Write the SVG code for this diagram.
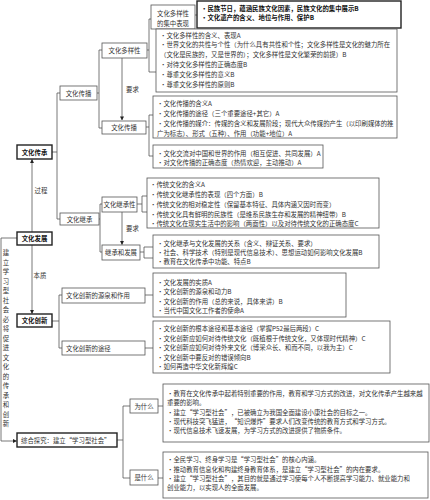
<svg xmlns="http://www.w3.org/2000/svg" width="430" height="500" viewBox="0 0 430 500">
<defs>
<style>
.n{fill:#fff;stroke:#555;stroke-width:0.8}
.bx{fill:#fff;stroke:#222;stroke-width:1.4}
.t{font-family:"Noto Sans CJK SC","Noto Sans",sans-serif;font-size:6.4px;fill:#333;dominant-baseline:central}
.c{text-anchor:middle}
.bt{font-weight:bold;fill:#111}
.l{fill:none;stroke:#555;stroke-width:0.8}
</style>
<marker id="ah" viewBox="0 0 10 10" refX="9" refY="5" markerWidth="5" markerHeight="5" orient="auto"><path d="M0,0 L10,5 L0,10 z" fill="#222"/></marker>
</defs>
<rect width="430" height="500" fill="#fff"/>

<g id="connectors">
<!-- 文化传承 bracket -->
<path class="l" d="M52,152 H57 M57,93 V219 M57,93 H60 M57,219 H60"/>
<!-- 文化传播 l2 bracket -->
<path class="l" d="M97,93 H99 M99,50 V128 M99,50 H102 M99,128 H102"/>
<!-- 文化多样性 bracket -->
<path class="l" d="M147,50 H149 M149,19 V72 M149,19 H151 M149,72 H156 M195,15 H197"/>
<!-- 要求 1 -->
<path class="l" d="M122,58 V120" marker-end="url(#ah)"/>
<!-- 文化传播 l3 bracket -->
<path class="l" d="M146,127 H149 M149,115 V156 M149,115 H153 M149,156 H153"/>
<!-- 文化继承 bracket -->
<path class="l" d="M99,219 H100 M100,204 V252 M100,204 H102 M100,252 H102"/>
<!-- 要求 2 -->
<path class="l" d="M122,212 V244.5" marker-end="url(#ah)"/>
<!-- 文化继承性 -> box -->
<path class="l" d="M137,204 H142 M142,196 V212 M142,196 H147 M142,212 H147"/>
<!-- 继承和发展 -> box -->
<path class="l" d="M140,252 H144 M144,247 V258 M144,247 H153 M144,258 H153"/>
<!-- 过程 -->
<path class="l" d="M32,232 V159.5" marker-end="url(#ah)"/>
<!-- 本质 -->
<path class="l" d="M32,245 V313.5" marker-end="url(#ah)"/>
<!-- 文化创新 bracket -->
<path class="l" d="M52,321 H59 M59,295 V348 M59,295 H62 M59,348 H62"/>
<path class="l" d="M145,295 H153 M145,348 H153"/>
<!-- left long connector -->
<path class="l" d="M17,238 H1 V441 H16.5" marker-end="url(#ah)"/>
<!-- 综合探究 bracket -->
<path class="l" d="M117,440 H123 M123,406 V478 M123,406 H130 M123,478 H130"/>
<path class="l" d="M158,406 H163 M158,478 H163"/>
</g>

<g id="vlabel">
<text class="t c" x="6" y="252">建<tspan x="6" dy="9.5">立</tspan><tspan x="6" dy="9.5">学</tspan><tspan x="6" dy="9.5">习</tspan><tspan x="6" dy="9.5">型</tspan><tspan x="6" dy="9.5">社</tspan><tspan x="6" dy="9.5">会</tspan><tspan x="6" dy="9.5">必</tspan><tspan x="6" dy="9.5">将</tspan><tspan x="6" dy="9.5">促</tspan><tspan x="6" dy="9.5">进</tspan><tspan x="6" dy="9.5">文</tspan><tspan x="6" dy="9.5">化</tspan><tspan x="6" dy="9.5">的</tspan><tspan x="6" dy="9.5">传</tspan><tspan x="6" dy="9.5">承</tspan><tspan x="6" dy="9.5">和</tspan><tspan x="6" dy="9.5">创</tspan><tspan x="6" dy="9.5">新</tspan></text>
<text class="t c" x="132.5" y="89">要求</text>
<text class="t c" x="132.5" y="228">要求</text>
<text class="t c" x="41" y="190">过程</text>
<text class="t c" x="40" y="275">本质</text>
</g>

<g id="n_jzbx"><rect class="n" x="151" y="5" width="44" height="24"/><text class="t c" x="173" y="13">文化多样性</text><text class="t c" x="173" y="23">的集中表现</text></g>
<g id="n_bold"><rect class="bx" x="197" y="1" width="204" height="27"/><text class="t bt" x="201" y="8">·民族节日，蕴涵民族文化因素，民族文化的集中展示B</text><text class="t bt" x="201" y="17">·文化遗产的含义、地位与作用、保护B</text></g>
<g id="n_dyx"><rect class="n" x="102" y="43" width="45" height="15"/><text class="t c" x="124.5" y="50.5">文化多样性</text></g>
<g id="box1"><rect class="n" x="156" y="29" width="241" height="63"/>
<text class="t" x="160" y="35">·文化多样性的含义、表现A</text>
<text class="t" x="160" y="44.8">·世界文化的共性与个性（为什么具有共性和个性；文化多样性是文化的魅力所在</text>
<text class="t" x="160" y="54.6">（文化是民族的，又是世界的）；文化多样性是文化繁荣的前提）B</text>
<text class="t" x="160" y="64.4">·对待文化多样性的正确态度B</text>
<text class="t" x="160" y="74.2">·尊重文化多样性的意义B</text>
<text class="t" x="160" y="84">·尊重文化多样性的原则B</text></g>
<g id="n_cb2"><rect class="n" x="60" y="86" width="37" height="14"/><text class="t c" x="78.5" y="93">文化传播</text></g>
<g id="n_cb3"><rect class="n" x="102" y="121" width="44" height="13"/><text class="t c" x="124" y="127.5">文化传播</text></g>
<g id="box2"><rect class="n" x="153" y="96" width="244" height="42"/>
<text class="t" x="157" y="103">·文化传播的含义A</text>
<text class="t" x="157" y="113">·文化传播的途径（三个重要途径+其它）A</text>
<text class="t" x="157" y="123">·文化传播的媒介：传媒的含义和发展阶段；现代大众传媒的产生（以印刷媒体的推</text>
<text class="t" x="157" y="133">广为标志）、形式（五种）、作用（功能+地位）A</text></g>
<g id="box3"><rect class="n" x="153" y="145" width="170" height="23"/>
<text class="t" x="157" y="153">·文化交流对中国和世界的作用（相互促进、共同发展）A</text>
<text class="t" x="157" y="162">·对文化传播的正确态度（热情欢迎，主动推动）A</text></g>
<g id="n_cc"><rect class="bx" x="17" y="145" width="35" height="14"/><text class="t c bt" x="34.5" y="152">文化传承</text></g>
<g id="n_fz"><rect class="bx" x="17" y="232" width="35" height="13"/><text class="t c bt" x="34.5" y="238.5">文化发展</text></g>
<g id="n_jc"><rect class="n" x="60" y="213" width="39" height="12"/><text class="t c" x="79.5" y="219">文化继承</text></g>
<g id="n_jcx"><rect class="n" x="102" y="197" width="35" height="15"/><text class="t c" x="119.5" y="204.5">文化继承性</text></g>
<g id="n_jcfz"><rect class="n" x="102" y="245" width="38" height="15"/><text class="t c" x="121" y="252.5">继承和发展</text></g>
<g id="box4"><rect class="n" x="147" y="178" width="232" height="50"/>
<text class="t" x="150" y="184">·传统文化的含义A</text>
<text class="t" x="150" y="194">·传统文化继承性的表现（四个方面）B</text>
<text class="t" x="150" y="204">·传统文化的相对稳定性（保留基本特征、具体内涵又因时而变）</text>
<text class="t" x="150" y="214">·传统文化具有鲜明的民族性（是维系民族生存和发展的精神纽带）B</text>
<text class="t" x="150" y="223">·传统文化在现实生活中的影响（两面性）以及对待传统文化的正确态度C</text></g>
<g id="box5"><rect class="n" x="153" y="235" width="226" height="33"/>
<text class="t" x="157" y="243">·文化继承与文化发展的关系（含义、辩证关系、要求）</text>
<text class="t" x="157" y="252">·社会、科学技术（特别是现代信息技术）、思想运动如何影响文化发展B</text>
<text class="t" x="157" y="261">·教育在文化传承中功能、特点B</text></g>
<g id="n_cx"><rect class="bx" x="17" y="314" width="35" height="13"/><text class="t c bt" x="34.5" y="320.5">文化创新</text></g>
<g id="n_yq"><rect class="n" x="62" y="288" width="83" height="15"/><text class="t" x="66" y="295.5">文化创新的源泉和作用</text></g>
<g id="n_tj"><rect class="n" x="62" y="341" width="83" height="14"/><text class="t" x="66" y="348">文化创新的途径</text></g>
<g id="box6"><rect class="n" x="153" y="273" width="193" height="44"/>
<text class="t" x="157" y="282">·文化发展的实质A</text>
<text class="t" x="157" y="291">·文化创新的源泉和动力B</text>
<text class="t" x="157" y="301">·文化创新的作用（总的来说，具体来讲）B</text>
<text class="t" x="157" y="310">·当代中国文化工作者的使命A</text></g>
<g id="box7"><rect class="n" x="153" y="321" width="237" height="52"/>
<text class="t" x="157" y="328">·文化创新的根本途径和基本途径（掌握P52最后两段）C</text>
<text class="t" x="157" y="338">·文化创新应如何对待传统文化（既植根于传统文化，又体现时代精神）C</text>
<text class="t" x="157" y="347">·文化创新应如何对待外来文化（博采众长、和而不同，以我为主）C</text>
<text class="t" x="157" y="357">·文化创新中要反对的错误倾向B</text>
<text class="t" x="157" y="366">·如何再造中华文化新辉煌C</text></g>
<g id="n_zh"><rect class="bx" x="17" y="433" width="100" height="14"/><text class="t" x="21" y="440">综合探究：建立“学习型社会”</text></g>
<g id="n_wsm"><rect class="n" x="130" y="399" width="28" height="14"/><text class="t c" x="144" y="406">为什么</text></g>
<g id="n_ssm"><rect class="n" x="130" y="470" width="28" height="15"/><text class="t c" x="144" y="477.5">是什么</text></g>
<g id="box8"><rect class="n" x="163" y="384" width="266" height="58"/>
<text class="t" x="167" y="393">·教育在文化传承中起着特别重要的作用，教育和学习方式的改进，对文化传承产生越来越</text>
<text class="t" x="167" y="402">重要的影响。</text>
<text class="t" x="167" y="412">·建立“学习型社会”，已被确立为我国全面建设小康社会的目标之一。</text>
<text class="t" x="167" y="421">·现代科技突飞猛进，“知识爆炸”要求人们改变传统的教育方式和学习方式。</text>
<text class="t" x="167" y="430">·现代信息技术飞速发展，为学习方式的改进提供了物质条件。</text></g>
<g id="box9"><rect class="n" x="163" y="452" width="265" height="46"/>
<text class="t" x="167" y="459">·全民学习、终身学习是“学习型社会”的核心内涵。</text>
<text class="t" x="167" y="469">·推动教育信息化和构建终身教育体系，是建立“学习型社会”的内在要求。</text>
<text class="t" x="167" y="478">·建立“学习型社会”，其目的就是通过学习使每个人不断提高学习能力、就业能力和</text>
<text class="t" x="167" y="487">创业能力，以实现人的全面发展。</text></g>
</svg>
